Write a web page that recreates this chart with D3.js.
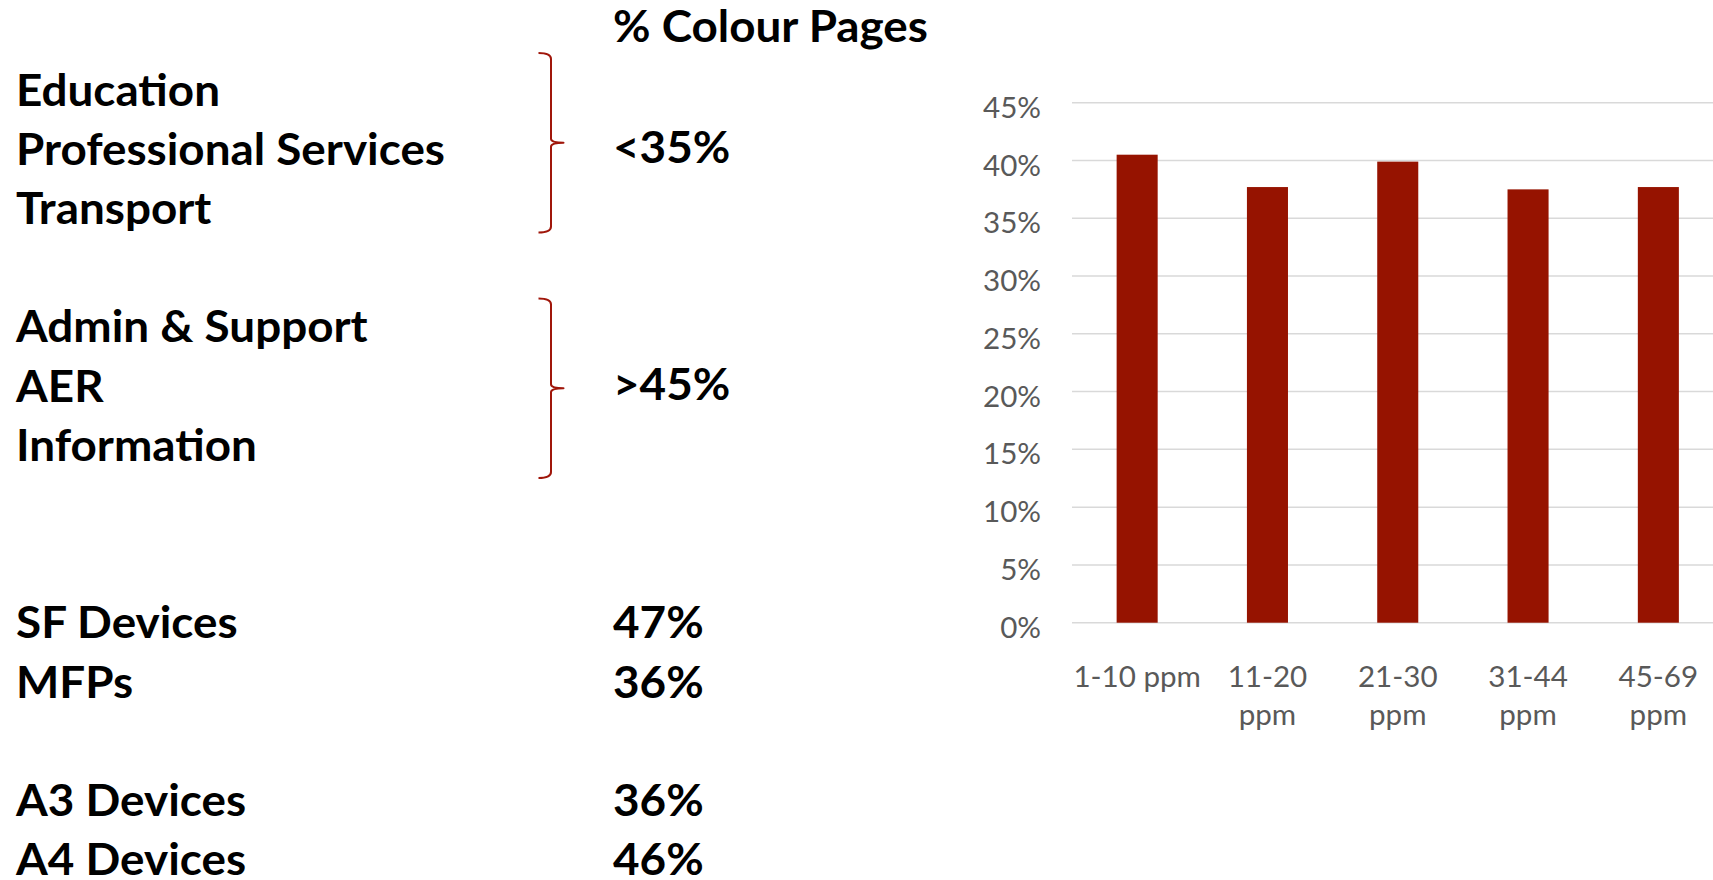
<!DOCTYPE html>
<html>
<head>
<meta charset="utf-8">
<script src="https://cdn.jsdelivr.net/npm/d3@7"></script>
<style>
  html, body { margin: 0; padding: 0; background: #ffffff; }
  svg { display: block; }
</style>
</head>
<body>
<svg id="chart" width="1713" height="880"></svg>
<script>
// ---- data ----
const categories = ["1-10 ppm", "11-20 ppm", "21-30 ppm", "31-44 ppm", "45-69 ppm"];
const colourShare = [0.405, 0.377, 0.399, 0.375, 0.377];
const yTicks = [0, 0.05, 0.10, 0.15, 0.20, 0.25, 0.30, 0.35, 0.40, 0.45];

const titleText = "% Colour Pages";
const lowSectors = ["Education", "Professional Services", "Transport"];
const lowSectorLabel = "<35%";
const highSectors = ["Admin & Support", "AER", "Information"];
const highSectorLabel = ">45%";
const deviceTypes = ["SF Devices", "MFPs"];
const deviceShare = [0.47, 0.36];
const paperSizes = ["A3 Devices", "A4 Devices"];
const paperShare = [0.36, 0.46];

// ---- styles ----
const BAR = "#961300";
const BRACE = "#a0160a";
const GRID = "#d9d9d9";
const AXIS_TEXT = "#595959";
const boldFont = { family: "Lato, 'Open Sans', sans-serif", size: 44, weight: 700 };
const regFont = { family: "Lato, 'Open Sans', sans-serif", size: 28.4, weight: 400 };

const svg = d3.select("#chart");
const pct = d3.format(".0%");

// Text is drawn in a humanist face: measure each string and scale it by a common
// factor per style so every line keeps consistent proportions.
function styleText(sel, f) {
  return sel.attr("font-family", f.family).attr("font-size", f.size).attr("font-weight", f.weight);
}
const probe = svg.append("text").attr("x", -9999).attr("y", -9999);
function naturalWidth(str, f) {
  styleText(probe, f).text(str);
  return probe.node().getComputedTextLength();
}
const kBold = 429 / naturalWidth("Professional Services", boldFont);
const kReg = 127.5 / naturalWidth("1-10 ppm", regFont);
function condense(sel, f, k) {
  sel.each(function () {
    const t = d3.select(this);
    const w = naturalWidth(t.text(), f);
    if (w > 0) t.attr("textLength", w * k).attr("lengthAdjust", "spacingAndGlyphs");
  });
}

// ---- left text panel ----
const rowHeight = 59.2;
const firstBaseline = 105.5;
const baseline = r => firstBaseline + r * rowHeight;
const textX = 16;
const valueX = 613;

const panel = svg.append("g").attr("class", "panel");

const title = styleText(panel.append("text"), boldFont)
  .attr("x", valueX).attr("y", 42).attr("fill", "#000").text(titleText);
condense(title, boldFont, kBold);

const rows = [];
lowSectors.forEach((s, i) => rows.push({ label: s, row: i }));
highSectors.forEach((s, i) => rows.push({ label: s, row: 4 + i }));
deviceTypes.forEach((s, i) => rows.push({ label: s, row: 9 + i, value: pct(deviceShare[i]) }));
paperSizes.forEach((s, i) => rows.push({ label: s, row: 12 + i, value: pct(paperShare[i]) }));

const rowLabels = styleText(panel.selectAll("text.row-label").data(rows).join("text"), boldFont)
  .attr("class", "row-label")
  .attr("x", textX)
  .attr("y", d => baseline(d.row))
  .attr("fill", "#000")
  .text(d => d.label);
condense(rowLabels, boldFont, kBold);

const rowValues = styleText(panel.selectAll("text.row-value").data(rows.filter(d => d.value)).join("text"), boldFont)
  .attr("class", "row-value")
  .attr("x", valueX)
  .attr("y", d => baseline(d.row))
  .attr("fill", "#000")
  .text(d => d.value);
condense(rowValues, boldFont, kBold);

// sector groups: a right curly brace with the range label beside it
const groups = [
  { label: lowSectorLabel, midRow: 1, braceMid: 142.7 },
  { label: highSectorLabel, midRow: 5, braceMid: 388.3 }
];
const braceHalf = 89.8, braceX0 = 538.5, braceX1 = 551, braceX2 = 563.5;
function bracePath(cy) {
  const top = cy - braceHalf, bot = cy + braceHalf;
  return `M${braceX0},${top} Q${braceX1},${top} ${braceX1},${top + 6}` +
         ` V${cy - 4} Q${braceX1},${cy} ${braceX2},${cy}` +
         ` Q${braceX1},${cy} ${braceX1},${cy + 4}` +
         ` V${bot - 6} Q${braceX1},${bot} ${braceX0},${bot}`;
}
panel.selectAll("path.brace").data(groups).join("path")
  .attr("class", "brace")
  .attr("d", d => bracePath(d.braceMid))
  .attr("fill", "none")
  .attr("stroke", BRACE)
  .attr("stroke-width", 2)
  .attr("stroke-linejoin", "round");

const groupLabels = styleText(panel.selectAll("text.group-label").data(groups).join("text"), boldFont)
  .attr("class", "group-label")
  .attr("x", valueX)
  .attr("y", d => baseline(d.midRow) - 2)
  .attr("fill", "#000")
  .text(d => d.label);
condense(groupLabels, boldFont, kBold);

// ---- bar chart ----
const plotLeft = 1072, plotRight = 1723.5, plotTop = 102.7, plotBottom = 622.7;

const x = d3.scaleBand()
  .domain(categories)
  .range([plotLeft, plotRight])
  .paddingInner(0.685)
  .paddingOuter(0.3425);

const y = d3.scaleLinear()
  .domain([0, 0.45])
  .range([plotBottom, plotTop]);

const chart = svg.append("g").attr("class", "chart");

// gridlines
chart.append("g").attr("class", "grid")
  .selectAll("line").data(yTicks).join("line")
  .attr("x1", plotLeft).attr("x2", 1713)
  .attr("y1", d => y(d)).attr("y2", d => y(d))
  .attr("stroke", GRID)
  .attr("stroke-width", 1.5);

// y axis labels
const yAxis = chart.append("g")
  .attr("transform", `translate(${plotLeft},0)`)
  .call(d3.axisLeft(y).tickValues(yTicks).tickFormat(pct).tickSize(0).tickPadding(31));
yAxis.select(".domain").remove();
const yLabels = yAxis.selectAll(".tick text")
  .attr("dy", 14.6)
  .attr("fill", AXIS_TEXT);
styleText(yLabels, regFont);
condense(yLabels, regFont, kReg);

// bars
chart.append("g").attr("class", "bars")
  .selectAll("rect").data(categories.map((c, i) => ({ c, v: colourShare[i] }))).join("rect")
  .attr("x", d => x(d.c))
  .attr("width", x.bandwidth())
  .attr("y", d => y(d.v))
  .attr("height", d => y(0) - y(d.v))
  .attr("fill", BAR);

// x axis labels, wrapped to the band step
function wrapLines(str) {
  const words = str.split(" ");
  const lines = [];
  let cur = "";
  words.forEach(w => {
    const trial = cur ? cur + " " + w : w;
    if (cur && naturalWidth(trial, regFont) * kReg > x.step() - 1) {
      lines.push(cur);
      cur = w;
    } else {
      cur = trial;
    }
  });
  if (cur) lines.push(cur);
  return lines;
}

const xLabelG = chart.append("g").attr("class", "x-labels");
categories.forEach(c => {
  const lines = wrapLines(c);
  lines.forEach((ln, j) => {
    const t = styleText(xLabelG.append("text"), regFont)
      .attr("x", x(c) + x.bandwidth() / 2)
      .attr("y", 687 + j * 38)
      .attr("text-anchor", "middle")
      .attr("fill", AXIS_TEXT)
      .text(ln);
    condense(t, regFont, kReg);
  });
});

probe.remove();
</script>
</body>
</html>
